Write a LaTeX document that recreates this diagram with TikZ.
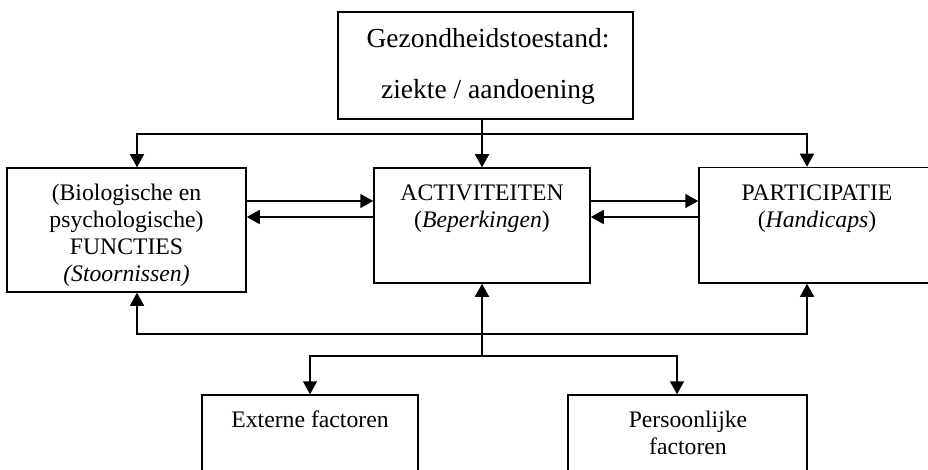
\documentclass[tikz,border=0pt]{standalone}
\usepackage{fontspec}
\setmainfont{Liberation Serif}
\usetikzlibrary{arrows.meta}

\begin{document}
\begin{tikzpicture}[x=1pt, y=-1pt, line width=1.5pt,
  box/.style={draw, rectangle, inner sep=0pt},
  lbl/.style={align=center, inner sep=0pt, anchor=north, font=\fontsize{23.7}{27}\selectfont},
  tip/.style={-{Triangle[length=13pt,width=14pt]}},
  tips/.style={{Triangle[length=13pt,width=14pt]}-{Triangle[length=13pt,width=14pt]}}]
\useasboundingbox (0,0) rectangle (928,470);
\node[box, minimum width=295pt, minimum height=107pt] (gez) at (485.5,65.5){};
\node[box, minimum width=239pt, minimum height=124pt] (fun) at (126.5,230){};
\node[box, minimum width=216pt, minimum height=115pt] (act) at (482,225.5){};
\node[box, minimum width=236pt, minimum height=115.5pt] (par) at (817,225.25){};
\node[box, minimum width=216pt, minimum height=85pt] (ext) at (310,437.5){};
\node[box, minimum width=239pt, minimum height=85pt] (per) at (687.5,437.5){};
\node[lbl, font=\fontsize{27.5}{51}\selectfont] (gezt) at (488,11.3){\strut Gezondheidstoestand:\\ziekte / aandoening};
\node[lbl] (funt) at (126.5,181.1){\strut(Biologische en\\psychologische)\\FUNCTIES\\\textit{(Stoornissen)}};
\node[lbl] (actt) at (482,181.1){\strut ACTIVITEITEN\\(\textit{Beperkingen})};
\node[lbl] (part) at (817,181.1){\strut PARTICIPATIE\\(\textit{Handicaps})};
\node[lbl] (extt) at (310,408.1){\strut Externe factoren};
\node[lbl] (pert) at (688,408.1){\strut Persoonlijke\\factoren};
\coordinate (rowa) at (0,134);
\coordinate (rowb) at (0,201);
\coordinate (rowc) at (0,217);
\coordinate (rowd) at (0,334);
\coordinate (rowe) at (0,356);
\draw[tip](gez.south -| act.north) -- (act.north);
\draw[tips]([xshift=10.5pt]fun.north) |- (rowa -| act.north) -| ([xshift=-10pt]par.north);
\draw[tip](fun.east |- rowb) -- (act.west |- rowb);
\draw[tip](act.west |- rowc) -- (fun.east |- rowc);
\draw[tip](act.east |- rowb) -- (par.west |- rowb);
\draw[tip](par.west |- rowc) -- (act.east |- rowc);
\draw[tips]([xshift=10.5pt]fun.south) |- (rowd -| act.south) -| ([xshift=-10pt]par.south);
\draw[tip](rowe -| act.south) -- (act.south);
\draw[tip](rowe -| act.south) -| (ext.north);
\draw[tip](rowe -| act.south) -| ([xshift=-10.5pt]per.north);
\end{tikzpicture}
\end{document}
